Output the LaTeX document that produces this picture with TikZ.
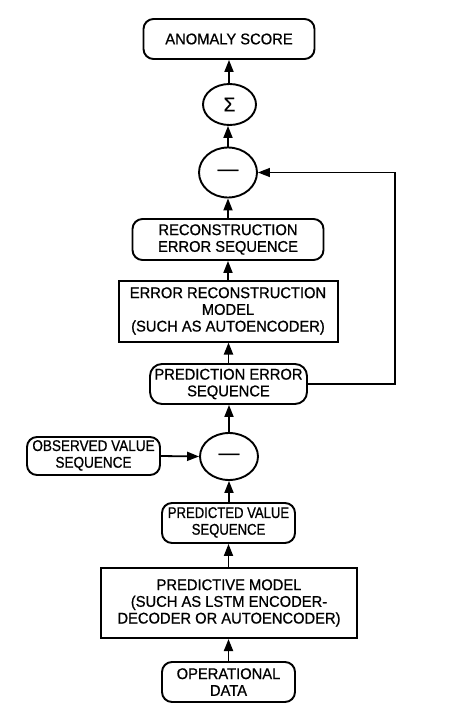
\documentclass[tikz,border=0pt]{standalone}
\usepackage{fontspec}
\setmainfont{Liberation Sans}[FakeStretch=0.95,FakeBold=0.8]
\usepackage{graphicx}
\usetikzlibrary{shapes.geometric,arrows.meta}
\newcommand{\sqz}[2]{\scalebox{#1}[1]{\begin{tabular}{@{}c@{}}#2\end{tabular}}}
\begin{document}
\begin{tikzpicture}[x=1pt,y=-1pt,
 every node/.style={font=\fontsize{15.5}{16.7}\selectfont, align=center, inner sep=0pt},
 rbox/.style={draw, line width=1.9pt, rounded corners=10pt},
 sbox/.style={draw, line width=2pt},
 oval/.style={draw, ellipse, line width=1.9pt},
 arr/.style={line width=1.8pt, -{Triangle[length=12pt,width=9pt]}}]
\useasboundingbox (0,0) rectangle (450,714);
\node[rbox, minimum width=171pt, minimum height=40pt] (score) at (229,39) {ANOMALY SCORE};
\node[oval, minimum width=53pt, minimum height=41pt] (sigma) at (229.5,104.5) {\fontsize{20}{20}\selectfont Σ};
\node[oval, minimum width=58pt, minimum height=50pt] (minusA) at (228,172.5) {\scalebox{1.4}[1.3]{—}};
\node[rbox, minimum width=191pt, minimum height=41pt] (recon) at (228,239.5) {RECONSTRUCTION\\ERROR SEQUENCE};
\node[sbox, minimum width=219pt, minimum height=61pt] (ermodel) at (228,311) {ERROR RECONSTRUCTION\\MODEL\\(SUCH AS AUTOENCODER)};
\node[rbox, minimum width=157pt, minimum height=40pt, rounded corners=12pt] (prederr) at (228.5,384) {PREDICTION ERROR\\SEQUENCE};
\node[oval, minimum width=58pt, minimum height=47pt] (minusB) at (229,456.5) {\scalebox{1.4}[1.3]{—}};
\node[rbox, minimum width=133pt, minimum height=38pt] (observed) at (93.5,456) {\sqz{0.92}{OBSERVED VALUE\\SEQUENCE}};
\node[rbox, minimum width=133pt, minimum height=40pt] (predval) at (228.5,523) {\sqz{0.89}{PREDICTED VALUE\\SEQUENCE}};
\node[sbox, minimum width=256pt, minimum height=70pt] (predmodel) at (229,603) {PREDICTIVE MODEL\\(SUCH AS LSTM ENCODER-\\DECODER OR AUTOENCODER)};
\node[rbox, minimum width=133pt, minimum height=40pt] (opdata) at (228.5,682) {OPERATIONAL\\DATA};
\coordinate (fb) at (395,0);
\draw[arr] (opdata.north) -- (opdata.north |- predmodel.south);
\draw[arr] (predmodel.north -| predval.south) -- (predval.south);
\draw[arr] (predval.north -| minusB.south) -- (minusB.south);
\draw[arr] (observed.east) -- (minusB.west);
\draw[arr] (minusB.north) -- (minusB.north |- prederr.south);
\draw[arr] (prederr.north) -- (prederr.north |- ermodel.south);
\draw[arr] (ermodel.north) -- (ermodel.north |- recon.south);
\draw[arr] (recon.north) -- (recon.north |- minusA.south);
\draw[arr] (minusA.north) -- (minusA.north |- sigma.south);
\draw[arr] (sigma.north -| score.south) -- (score.south);
\draw[arr, line width=1.5pt] (prederr.east) -- (prederr.east -| fb) -- (minusA.east -| fb) -- (minusA.east);
\end{tikzpicture}
\end{document}
